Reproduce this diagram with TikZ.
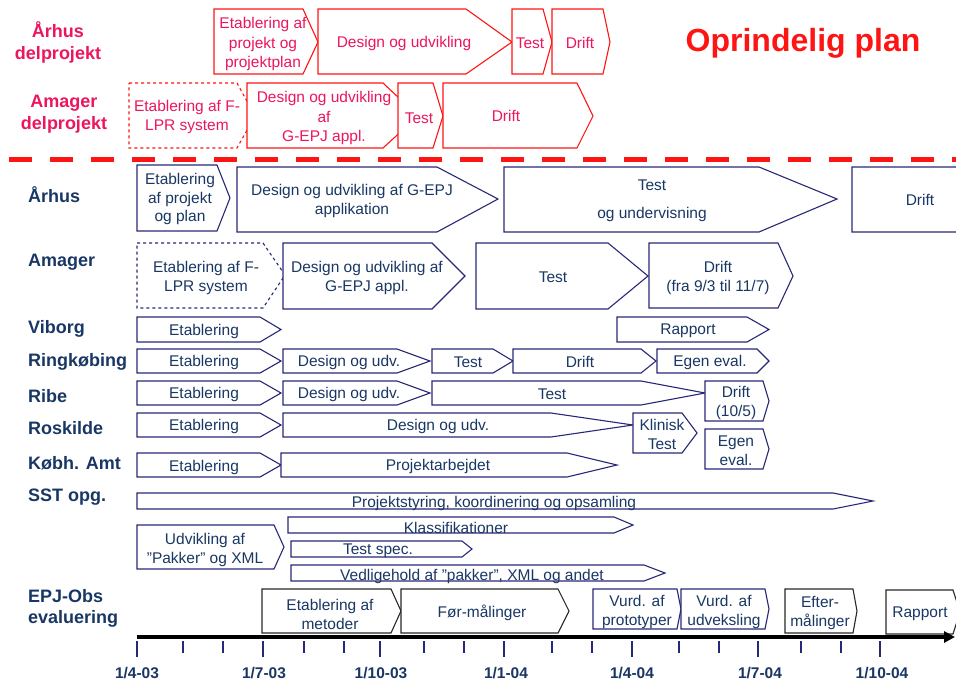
\documentclass[tikz,border=0pt]{standalone}
\usepackage{fontspec}
\setmainfont{Liberation Sans}
\usetikzlibrary{arrows.meta}

\definecolor{planred}{RGB}{255,20,20}
\definecolor{pinkred}{RGB}{236,22,92}
\definecolor{boxnavy}{RGB}{40,40,120}
\definecolor{textnavy}{RGB}{25,55,100}
\definecolor{boxgrey}{RGB}{40,40,40}

\tikzset{
  fase/.style={draw=boxnavy, fill=white, line width=1.1pt, line join=miter},
  redfase/.style={draw=planred, fill=white, line width=1.1pt},
  greyfase/.style={draw=boxgrey, fill=white, line width=1.1pt},
  boxtext/.style={text=textnavy, align=center, inner sep=0pt, font=\fontsize{15.5}{19}\selectfont},
  redtext/.style={text=pinkred, align=center, inner sep=0pt, font=\fontsize{15.5}{19.5}\selectfont},
  rowlabel/.style={anchor=west, text=textnavy, align=left, inner sep=0pt, font=\bfseries\fontsize{18}{21}\selectfont},
  redlabel/.style={text=pinkred, align=center, inner sep=0pt, font=\bfseries\fontsize{18}{22}\selectfont},
  axislabel/.style={text=textnavy, inner sep=0pt, font=\bfseries\fontsize{15.5}{18}\selectfont}
}

% phase arrow: [style] left, top, bottom, right, tip x, tip y
\newcommand{\fase}[7][fase]{\draw[#1] (#2,#3) -- (#5,#3) -- (#6,#7) -- (#5,#4) -- (#2,#4) -- cycle;}

\begin{document}
\begin{tikzpicture}[x=1pt, y=-1pt]
  \useasboundingbox (0,0) rectangle (956,681);

  % Original plan (red)
  \node[redlabel] (rlbl-arhus) at (58,42) {Århus\\delprojekt};
  \node[redlabel] (rlbl-amager) at (64,114) {Amager\\delprojekt};
  \node[text=planred, inner sep=0pt, font=\bfseries\fontsize{32}{36}\selectfont] (oprindelig) at (803,43) {Oprindelig plan};

  \fase[redfase]{214}{9}{74}{303}{318}{42}
  \fase[redfase]{318}{9}{74}{466}{512}{42}
  \fase[redfase]{512}{9}{74}{543}{552}{42}
  \fase[redfase]{552}{9}{74}{603}{610}{42}
  \node[redtext] (rarh-etab) at (263,44) {Etablering af\\projekt og\\projektplan};
  \node[redtext] (rarh-design) at (404,43) {Design og udvikling};
  \node[redtext] (rarh-test) at (530,43) {Test};
  \node[redtext] (rarh-drift) at (580,43) {Drift};

  \fase[redfase,dashed]{129}{83}{148}{237}{255}{116}
  \fase[redfase]{247}{83}{148}{383}{418}{116}
  \fase[redfase]{398}{83}{148}{433}{443}{116}
  \fase[redfase]{443}{83}{148}{577}{593}{116}
  \node[redtext] (rama-etab) at (187,117) {Etablering af F-\\LPR system};
  \node[redtext] (rama-design) at (324,118) {Design og udvikling\\af\\G-EPJ appl.};
  \node[redtext] (rama-test) at (419,118) {Test};
  \node[redtext] (rama-drift) at (506,116) {Drift};

  % Separator
  \draw[planred, line width=5pt, dash pattern=on 23pt off 18pt] (9,159) -- (956,159);

  % Row labels
  \node[rowlabel] (lbl-arhus) at (28,195) {Århus};
  \node[rowlabel] (lbl-amager) at (28,262) {Amager};
  \node[rowlabel] (lbl-viborg) at (28,329) {Viborg};
  \node[rowlabel] (lbl-ringk) at (28,362) {Ringkøbing};
  \node[rowlabel] (lbl-ribe) at (28,396) {Ribe};
  \node[rowlabel] (lbl-rosk) at (28,428) {Roskilde};
  \node[rowlabel] (lbl-kbh) at (28,463) {Købh. Amt};
  \node[rowlabel] (lbl-sst) at (28,497) {SST opg.};
  \node[rowlabel] (lbl-epj) at (28,608) {EPJ-Obs\\evaluering};

  % Aarhus
  \fase{137}{165}{231}{217}{230}{198}
  \fase{237}{167}{232}{437}{498}{199}
  \fase{504}{167}{232}{759}{837}{199}
  \fase{852}{167}{232}{975}{980}{199}
  \node[boxtext, font=\fontsize{15.5}{18.5}\selectfont] (arh-etab) at (180,199) {Etablering\\af projekt\\og plan};
  \node[boxtext] (arh-design) at (352,201) {Design og udvikling af G-EPJ\\applikation};
  \node[boxtext] (arh-test) at (652,201) {Test\\[9pt]og undervisning};
  \node[boxtext] (arh-drift) at (920,200) {Drift};

  % Amager
  \fase[fase,dashed]{137}{243}{308}{263}{285}{275}
  \fase{283}{243}{309}{432}{465}{276}
  \fase{476}{243}{309}{608}{648}{276}
  \fase{649}{243}{308}{778}{793}{276}
  \node[boxtext] (ama-etab) at (206,278) {Etablering af F-\\LPR system};
  \node[boxtext] (ama-design) at (367,278) {Design og udvikling af\\G-EPJ appl.};
  \node[boxtext] (ama-test) at (553,277) {Test};
  \node[boxtext] (ama-drift) at (718,278) {Drift\\(fra 9/3 til 11/7)};

  % Viborg
  \fase{137}{317}{342}{260}{281}{329.5}
  \fase{617}{317}{342}{747}{769}{329.5}
  \node[boxtext] (vib-etab) at (204,331) {Etablering};
  \node[boxtext] (vib-rapport) at (688,331) {Rapport};

  % Ringkoebing
  \fase{137}{349}{373}{260}{281}{361}
  \fase{283}{349}{373}{397}{430}{361}
  \fase{432}{349}{373}{493}{513}{361}
  \fase{513}{349}{373}{641}{656}{361}
  \fase{657}{349}{373}{757}{769}{361}
  \node[boxtext] (rin-etab) at (204,362) {Etablering};
  \node[boxtext] (rin-design) at (349,362) {Design og udv.};
  \node[boxtext] (rin-test) at (468,362) {Test};
  \node[boxtext] (rin-drift) at (580,362) {Drift};
  \node[boxtext] (rin-egen) at (710,362) {Egen eval.};

  % Ribe
  \fase{137}{381}{405}{260}{281}{393}
  \fase{283}{381}{405}{397}{430}{393}
  \fase{432}{381}{405}{641}{705}{393}
  \fase{705}{381}{421}{763}{769}{401}
  \node[boxtext] (rib-etab) at (204,394) {Etablering};
  \node[boxtext] (rib-design) at (349,394) {Design og udv.};
  \node[boxtext] (rib-test) at (552,394) {Test};
  \node[boxtext] (rib-drift) at (736,403) {Drift\\(10/5)};

  % Roskilde
  \fase{137}{413}{437}{260}{281}{425}
  \fase{283}{413}{437}{551}{633}{425}
  \fase{633}{413}{453}{682}{697}{433}
  \fase{705}{429}{469}{763}{769}{449}
  \node[boxtext] (ros-etab) at (204,426) {Etablering};
  \node[boxtext] (ros-design) at (438,426) {Design og udv.};
  \node[boxtext] (ros-klinisk) at (662,434) {Klinisk\\Test};
  \node[boxtext] (ros-egen) at (736,451) {Egen\\eval.};

  % Koebh. Amt
  \fase{137}{453}{477}{260}{281}{465}
  \fase{281}{453}{477}{567}{617}{465}
  \node[boxtext] (kbh-etab) at (204,467) {Etablering};
  \node[boxtext] (kbh-projekt) at (438,466) {Projektarbejdet};

  % SST
  \fase{137}{493}{509}{833}{873}{501}
  \fase{288}{517}{533}{614}{633}{525}
  \fase{137}{525}{569}{274}{284}{547}
  \fase{291}{541}{557}{462}{472}{549}
  \fase{291}{565}{581}{644}{665}{573}
  \node[boxtext] (sst-styring) at (494,503) {Projektstyring, koordinering og opsamling};
  \node[boxtext] (sst-klass) at (456,528) {Klassifikationer};
  \node[boxtext] (sst-pakker) at (205,550) {Udvikling af\\”Pakker” og XML};
  \node[boxtext] (sst-testspec) at (378,551) {Test spec.};
  \node[boxtext] (sst-vedl) at (472,576) {Vedligehold af ”pakker”, XML og andet};

  % EPJ-Obs
  \fase[greyfase]{262}{589}{633}{391}{401}{611}
  \fase[greyfase]{401}{589}{633}{558}{569}{611}
  \fase{593}{589}{629}{677}{681}{609}
  \fase{681}{589}{629}{765}{769}{609}
  \fase[greyfase]{785}{589}{633}{853}{857}{611}
  \fase[greyfase]{886}{590}{634}{953}{960}{612}
  \node[boxtext] (epj-etab) at (330,614) {Etablering af\\metoder};
  \node[boxtext] (epj-foer) at (482,613) {Før-målinger};
  \node[boxtext] (epj-proto) at (637,612) {Vurd. af\\prototyper};
  \node[boxtext] (epj-udv) at (724,612) {Vurd. af\\udveksling};
  \node[boxtext] (epj-efter) at (820,613) {Efter-\\målinger};
  \node[boxtext] (epj-rapport) at (920,614) {Rapport};

  % Time axis
  \draw[line width=4pt, -{Triangle[length=11pt,width=11pt]}] (137,637) -- (955,637);
  \foreach \tx in {183,223,304,344,424,464,552,592,679,719,801,841}
    \draw[boxnavy, line width=1.1pt] (\tx,641) -- (\tx,653);
  \foreach \tx in {137,263,380,504,632,758,880}
    \draw[boxnavy, line width=1.1pt] (\tx,641) -- (\tx,657);
  \node[axislabel] (d0403) at (137,673) {1/4-03};
  \node[axislabel] (d0703) at (264,673) {1/7-03};
  \node[axislabel] (d1003) at (381,673) {1/10-03};
  \node[axislabel] (d0104) at (506,673) {1/1-04};
  \node[axislabel] (d0404) at (632,673) {1/4-04};
  \node[axislabel] (d0704) at (760,673) {1/7-04};
  \node[axislabel] (d1004) at (882,673) {1/10-04};
\end{tikzpicture}
\end{document}
